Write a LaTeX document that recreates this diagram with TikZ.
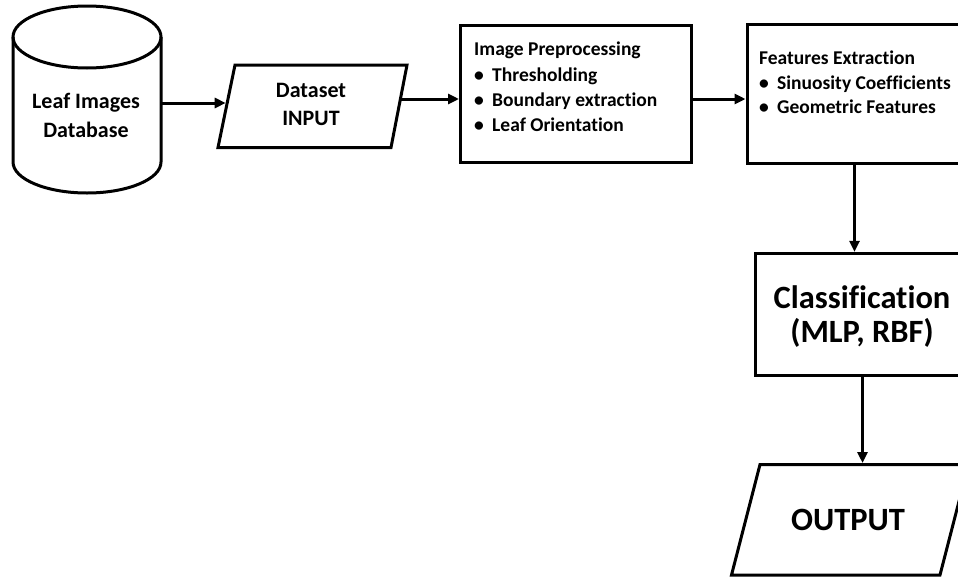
\documentclass[tikz,border=0pt]{standalone}
\usepackage{fontspec}
\setmainfont{Carlito}[Ligatures=NoCommon]
\usetikzlibrary{arrows.meta,calc}
\newcommand{\bulitem}[1]{\makebox[18pt][l]{\textbullet}#1}
\begin{document}
\begin{tikzpicture}[x=1pt,y=-1pt,
  outline/.style={line width=3pt, line join=miter},
  box/.style={draw, line width=3pt, rectangle, inner sep=0pt},
  arr/.style={line width=3pt, -{Triangle[length=11pt,width=10pt]}},
  lbl/.style={inner sep=0pt, anchor=base, font=\bfseries\fontsize{22}{26}\selectfont},
  big/.style={inner sep=0pt, anchor=base, font=\bfseries\fontsize{32.5}{38}\selectfont},
  small/.style={inner sep=0pt, anchor=base west, font=\bfseries\fontsize{19.5}{24}\selectfont}]
\useasboundingbox (0,0) rectangle (958,581);
\clip (0,0) rectangle (958,581);
% cylinder
\draw[outline] (13,37) -- (13,162) arc[start angle=180,end angle=0,x radius=74,y radius=31] -- (161,37);
\draw[outline] (87,37) ellipse [x radius=74, y radius=31];
\node[lbl] (t1) at (86,108) {Leaf Images};
\node[lbl] (t2) at (86,137) {Database};
\coordinate (dbr) at (161,103);
% dataset
\draw[outline] (235,65) -- (407,65) -- (391,147.5) -- (218,147.5) -- cycle;
\node[lbl] (t3) at (311,97) {Dataset};
\node[lbl] (t4) at (311,125) {INPUT};
\coordinate (dsin) at (225.7,103);
\coordinate (dsout) at (400,99);
\draw[arr] (dbr) -- (dsin);
% preprocessing
\node[box, minimum width=231, minimum height=136.5] (pre) at (576,93.75) {};
\node[small] (p0) at (474,55) {Image Preprocessing};
\node[small] (p1) at (474,81) {\bulitem{Thresholding}};
\node[small] (p2) at (474,106) {\bulitem{Boundary extraction}};
\node[small] (p3) at (474,131) {\bulitem{Leaf Orientation}};
\draw[arr] (dsout) -- (pre.west |- dsout);
% features
\node[box, minimum width=215, minimum height=139.3] (fe) at (854.5,94.3) {};
\node[small] (f0) at (759,64) {Features Extraction};
\node[small] (f1) at (759,89) {\bulitem{Sinuosity Coefficients}};
\node[small] (f2) at (759,113) {\bulitem{Geometric Features}};
\draw[arr] (pre.east |- dsout) -- (fe.west |- dsout);
% classification
\node[box, minimum width=215, minimum height=121.7] (cls) at (862.5,314.2) {};
\node[big] (c1) at (862,308) {Classification};
\node[big] (c2) at (862,342) {(MLP, RBF)};
\draw[arr] (fe.south) -- (fe.south |- cls.north);
% output
\draw[outline] (760,464.5) -- (968.5,464.5) -- (940,575) -- (731.5,575) -- cycle;
\node[big] (o1) at (848,530) {OUTPUT};
\coordinate (outtop) at (862,463);
\draw[arr] (cls.south) -- (cls.south |- outtop);
\end{tikzpicture}
\end{document}
